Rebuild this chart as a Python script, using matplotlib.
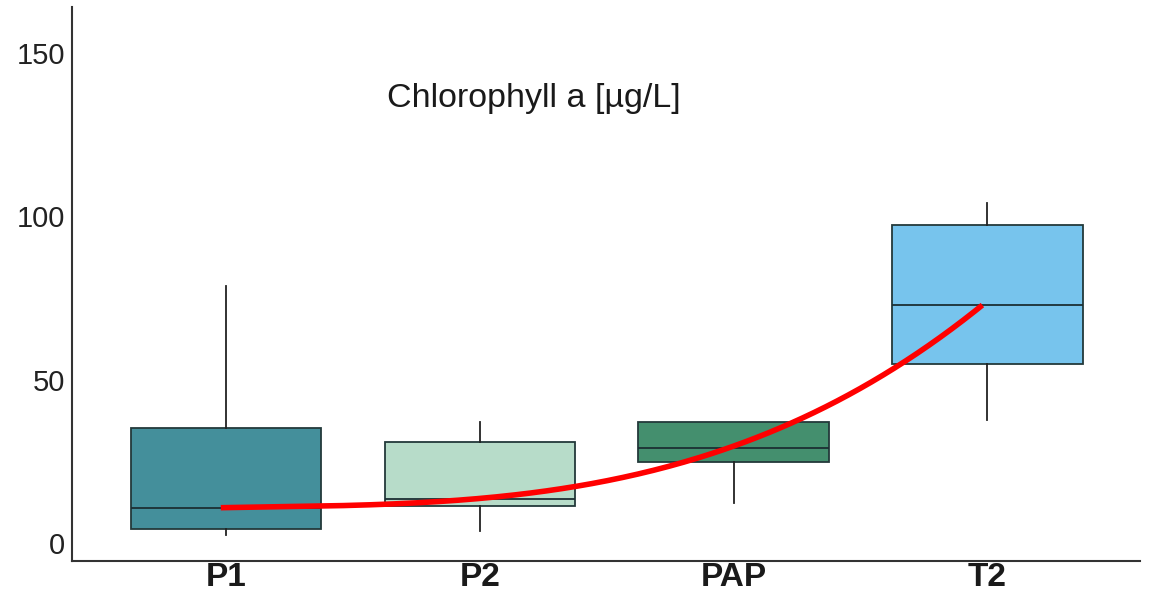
import numpy as np
import matplotlib.pyplot as plt

plt.rcParams['font.family'] = ['Liberation Sans', 'DejaVu Sans']

sites = ['P1', 'P2', 'PAP', 'T2']
whislo = [2.4, 3.7, 12.3, 37.6]
q1 = [4.3, 11.4, 24.8, 54.7]
med = [10.8, 13.5, 29.1, 72.8]
q3 = [35.2, 31.0, 37.1, 97.2]
whishi = [78.6, 37.0, 37.1, 104.0]
colors = ['#448f9b', '#b7dcc9', '#448f6e', '#77c4ed']
yticks = [0, 50, 100, 150]

fig = plt.figure(figsize=(11.49, 5.94), dpi=100)
ax = fig.add_axes([0.0627, 0.0556, 0.9293, 0.9326])

stats = []
for i in range(len(sites)):
    stats.append(dict(label=sites[i], whislo=whislo[i], q1=q1[i], med=med[i],
                      q3=q3[i], whishi=whishi[i], fliers=[]))

pos = np.arange(len(sites))
bp = ax.bxp(stats, positions=pos, widths=0.75, patch_artist=True, showcaps=False,
            boxprops=dict(edgecolor='#23393a', linewidth=1.3),
            medianprops=dict(color='#1c2f33', linewidth=1.3),
            whiskerprops=dict(color='#222222', linewidth=1.3))
for patch, c in zip(bp['boxes'], colors):
    patch.set_facecolor(c)

# smooth trend through the medians
coef = np.polyfit(pos, med, 3)
xs = np.linspace(pos[0], pos[-1], 200)
ax.plot(xs - 0.02, np.polyval(coef, xs), color='#ff0000', linewidth=4, solid_capstyle='butt', zorder=5)

ax.set_xlim(-0.606, 3.6)
ax.set_ylim(-5.5, 164)
ax.set_yticks(yticks)
ax.set_yticklabels([str(v) for v in yticks], fontsize=21, color='#222222')
ax.set_xticks(pos)
ax.set_xticklabels(sites, fontsize=24, fontweight='bold', color='#1a1a1a')
ax.tick_params(axis='y', length=0, pad=5)
ax.tick_params(axis='x', length=0, pad=1)

for s in ['top', 'right']:
    ax.spines[s].set_visible(False)
for s in ['left', 'bottom']:
    ax.spines[s].set_color('#333333')
    ax.spines[s].set_linewidth(1.5)

ax.text(0.432, 0.834, 'Chlorophyll a [µg/L]', transform=ax.transAxes, ha='center', va='center',
        fontsize=24.5, color='#1a1a1a')

fig.savefig('out.png', dpi=100)
